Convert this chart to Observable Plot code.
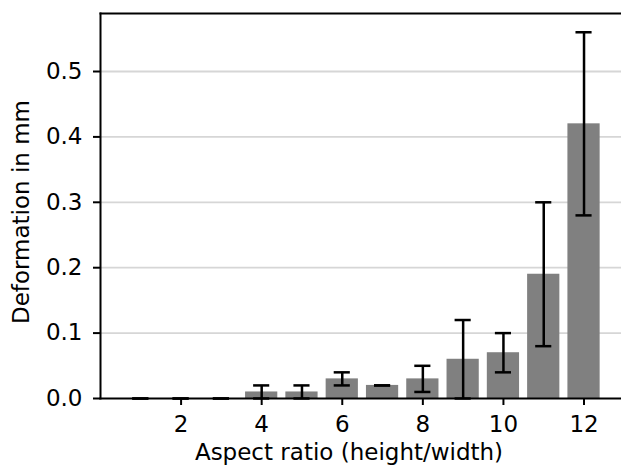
<!DOCTYPE html>
<html>
<head>
<meta charset="utf-8">
<script src="https://cdn.jsdelivr.net/npm/d3@7"></script>
<script src="https://cdn.jsdelivr.net/npm/@observablehq/plot@0.6"></script>
<style>
  html, body { margin: 0; padding: 0; background: #fff; }
  svg { font-family: "DejaVu Sans", sans-serif; }
</style>
</head>
<body>
<div id="chart"></div>
<script>
const ratios = [1, 2, 3, 4, 5, 6, 7, 8, 9, 10, 11, 12];
const deformation = [0, 0, 0, 0.01, 0.01, 0.03, 0.02, 0.03, 0.06, 0.07, 0.19, 0.42];
const errors = [0, 0, 0, 0.01, 0.01, 0.01, 0, 0.02, 0.06, 0.03, 0.11, 0.14];
const xTicks = [2, 4, 6, 8, 10, 12];
const yTicks = [0, 0.1, 0.2, 0.3, 0.4, 0.5];
const xLabel = "Aspect ratio (height/width)";
const yLabel = "Deformation in mm";

const data = ratios.map((r, i) => ({
  ratio: r,
  value: deformation[i],
  lo: deformation[i] - errors[i],
  hi: deformation[i] + errors[i]
}));

const FS = 23;

const chart = Plot.plot({
  width: 621,
  height: 473,
  marginLeft: 100,
  marginRight: 0,
  marginTop: 13,
  marginBottom: 75,
  style: { fontFamily: "DejaVu Sans, sans-serif", fontSize: FS + "px", color: "#000", background: "#fff" },
  x: { type: "linear", domain: [0, 12.93] },
  y: { domain: [0, 0.5887] },
  marks: [
    Plot.gridY(yTicks.filter(d => d > 0), { stroke: "#d6d6d6", strokeOpacity: 1, strokeWidth: 1.8 }),
    Plot.rectY(data, { x1: d => d.ratio - 0.4, x2: d => d.ratio + 0.4, y1: 0, y2: "value", fill: "#808080" }),
    Plot.ruleX(data, { x: "ratio", y1: "lo", y2: "hi", stroke: "#000", strokeWidth: 2.5 }),
    Plot.ruleY(data, { y: "lo", x1: d => d.ratio - 0.2, x2: d => d.ratio + 0.2, stroke: "#000", strokeWidth: 2.5 }),
    Plot.ruleY(data, { y: "hi", x1: d => d.ratio - 0.2, x2: d => d.ratio + 0.2, stroke: "#000", strokeWidth: 2.5 }),
    Plot.axisX({ ticks: xTicks, tickSize: 7, tickPadding: 10, fontSize: FS, label: null, stroke: "#000", strokeWidth: 2 }),
    Plot.axisY({ ticks: yTicks, tickFormat: d3.format(".1f"), tickSize: 7, tickPadding: 11, fontSize: FS,
      label: null, stroke: "#000", strokeWidth: 2 }),
    Plot.frame({ anchor: "top", stroke: "#000", strokeWidth: 2 }),
    Plot.frame({ anchor: "left", stroke: "#000", strokeWidth: 2 }),
    Plot.frame({ anchor: "bottom", stroke: "#000", strokeWidth: 2 }),
    Plot.text([yLabel], { frameAnchor: "left", textAnchor: "middle", rotate: -90, dx: -79, dy: 6, fontSize: FS, fill: "#000" }),
    Plot.text([xLabel], { frameAnchor: "bottom", dx: -12, dy: 61, fontSize: FS, fill: "#000" })
  ]
});
document.getElementById("chart").appendChild(chart);
</script>
</body>
</html>
